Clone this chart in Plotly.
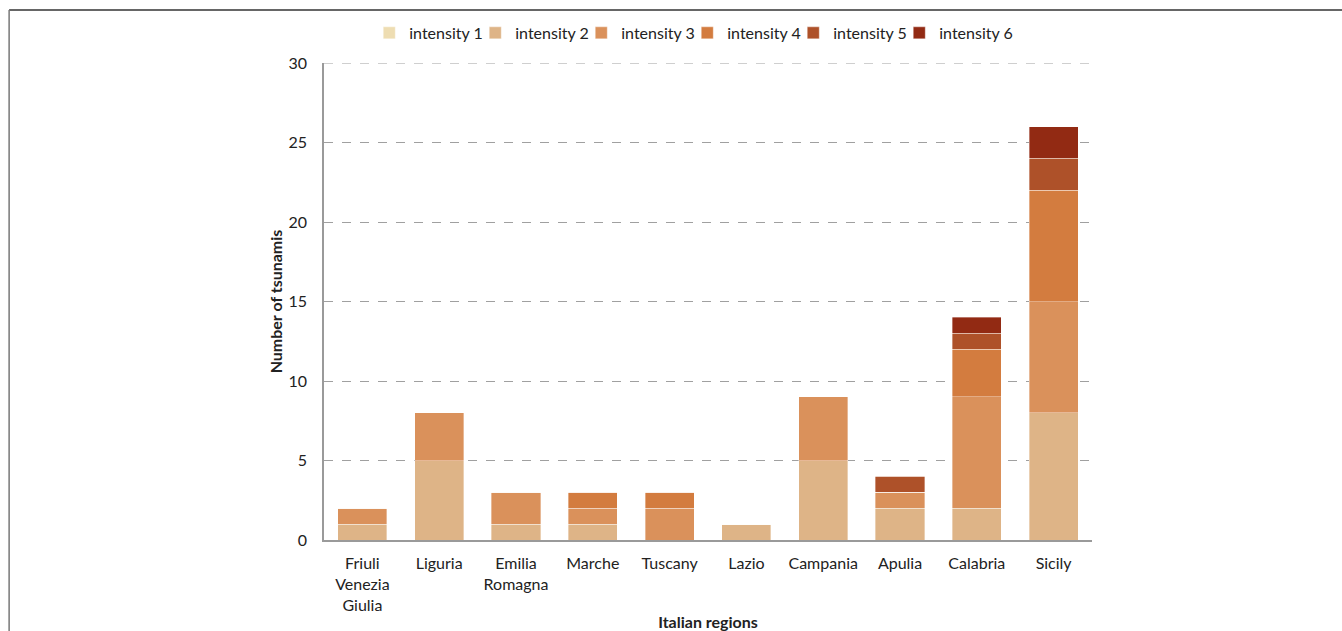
import plotly.graph_objects as go

regions = ["Friuli<br>Venezia<br>Giulia", "Liguria", "Emilia<br>Romagna", "Marche", "Tuscany",
           "Lazio", "Campania", "Apulia", "Calabria", "Sicily"]
intensity_1 = [0, 0, 0, 0, 0, 0, 0, 0, 0, 0]
intensity_2 = [1, 5, 1, 1, 0, 1, 5, 2, 2, 8]
intensity_3 = [1, 3, 2, 1, 2, 0, 4, 1, 7, 7]
intensity_4 = [0, 0, 0, 1, 1, 0, 0, 0, 3, 7]
intensity_5 = [0, 0, 0, 0, 0, 0, 0, 1, 1, 2]
intensity_6 = [0, 0, 0, 0, 0, 0, 0, 0, 1, 2]
y_max = 30

series = [
    ("intensity 1", intensity_1, "#EEDDB2"),
    ("intensity 2", intensity_2, "#DEB487"),
    ("intensity 3", intensity_3, "#DA915B"),
    ("intensity 4", intensity_4, "#D37C3F"),
    ("intensity 5", intensity_5, "#AE5129"),
    ("intensity 6", intensity_6, "#922A13"),
]

fig = go.Figure()
for name, vals, col in series:
    fig.add_trace(go.Bar(x=regions, y=vals, name=name,
                         marker=dict(color=col, line=dict(color="rgba(255,255,255,0.6)", width=0.6))))

# invisible legend spacer so the last legend label is not clipped
fig.add_trace(go.Bar(x=regions[:1], y=[0], name=" ", hoverinfo="skip",
                     marker=dict(color="rgba(0,0,0,0)", line=dict(width=0))))

font = "Lato, 'Open Sans', sans-serif"
fig.update_layout(
    barmode="stack",
    bargap=0.36,
    width=1342, height=631,
    margin=dict(l=324, r=250, t=63, b=91, autoexpand=False),
    plot_bgcolor="white", paper_bgcolor="white",
    font=dict(family=font, size=16, color="#222"),
    legend=dict(orientation="h", x=0.542, xanchor="center", y=1.063, yanchor="middle",
                font=dict(size=16), traceorder="normal",
                entrywidth=61, entrywidthmode="pixels", tracegroupgap=0),
    xaxis=dict(showline=True, linecolor="#9a9a9a", linewidth=1.5, ticks="",
               tickfont=dict(size=16), ticklabelstandoff=8,
               title=dict(text="<b>Italian regions</b>", font=dict(size=16), standoff=10)),
    yaxis=dict(range=[0, y_max], dtick=5, showline=True, linecolor="#9a9a9a", linewidth=1.5,
               showgrid=True, gridcolor="#a0a0a0", griddash="dash", gridwidth=1,
               zeroline=False, ticks="", ticklabelstandoff=12,
               tickfont=dict(size=16),
               title=dict(text="<b>Number of tsunamis</b>", font=dict(size=16), standoff=2)),
)

# top gridline at the axis maximum
fig.add_shape(type="line", xref="paper", yref="y", x0=0, x1=1, y0=y_max, y1=y_max,
              line=dict(color="#a0a0a0", width=1, dash="dash"), layer="below")

# outer frame lines (top and left)
fig.add_shape(type="line", xref="paper", yref="paper", x0=-0.41, x1=1.33, y0=1.111, y1=1.111,
              line=dict(color="#333", width=1.5))
fig.add_shape(type="line", xref="paper", yref="paper", x0=-0.41, x1=-0.41, y0=1.111, y1=-0.2,
              line=dict(color="#777", width=1.5))

fig.write_html("out.html", config={"displayModeBar": False},
               post_script="document.body.style.margin='0';document.body.style.overflow='hidden';")
